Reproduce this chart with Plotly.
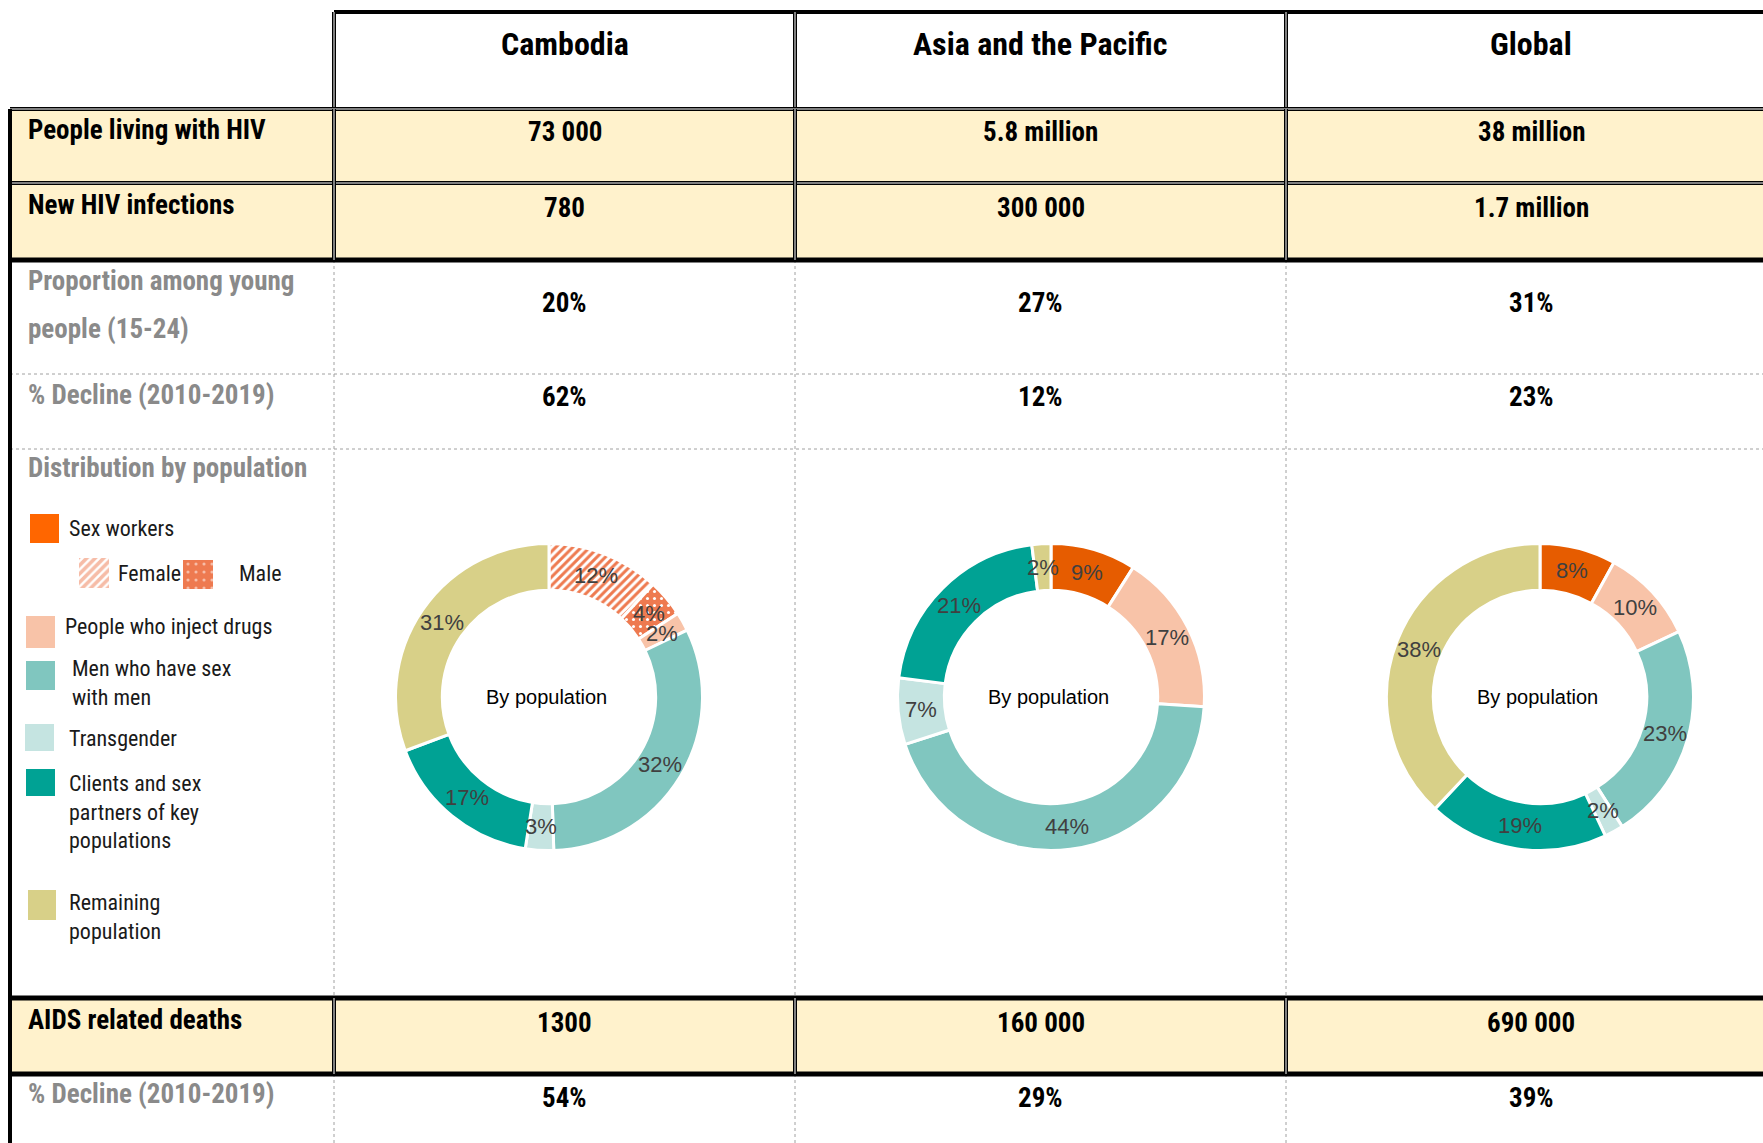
import math
import plotly.graph_objects as go

W, H = 1763, 1143

# ---------------- data ----------------
columns = ["Cambodia", "Asia and the Pacific", "Global"]
plhiv = ["73 000", "5.8 million", "38 million"]
new_infections = ["780", "300 000", "1.7 million"]
young_share = ["20%", "27%", "31%"]
decline_infections = ["62%", "12%", "23%"]
aids_deaths = ["1300", "160 000", "690 000"]
decline_deaths = ["54%", "29%", "39%"]

cambodia_groups = ["Female sex workers", "Male sex workers", "People who inject drugs",
                   "Men who have sex with men", "Transgender",
                   "Clients and sex partners of key populations", "Remaining population"]
cambodia_dist = [12, 4, 2, 32, 3, 17, 31]

region_groups = ["Sex workers", "People who inject drugs", "Men who have sex with men",
                 "Transgender", "Clients and sex partners of key populations",
                 "Remaining population"]
asia_dist = [9, 17, 44, 7, 21, 2]
global_dist = [8, 10, 23, 2, 19, 38]

legend_labels = ["Sex workers", "People who inject drugs", "Men who have sex<br>with men",
                 "Transgender", "Clients and sex<br>partners of key<br>populations",
                 "Remaining<br>population"]

# ---------------- style ----------------
NARROW = "Roboto Condensed, Liberation Sans Narrow, Arial Narrow, sans-serif"
ARIAL = "Liberation Sans, Arial, sans-serif"
YELLOW = "#FFF2CC"
GRAY = "#8a8a8a"
C_SW = "#E65C00"
C_SW_LEG = "#FF6600"
C_SW_PAT = "#EE7A50"
C_PWID = "#F8C3A8"
C_MSM = "#80C6BF"
C_TG = "#C5E4E1"
C_CLI = "#00A294"
C_REM = "#D8D088"
region_colors = [C_SW, C_PWID, C_MSM, C_TG, C_CLI, C_REM]
cam_colors = [C_SW_PAT, C_SW_PAT, C_PWID, C_MSM, C_TG, C_CLI, C_REM]


def X(px):
    return px / W


def Y(py):
    return 1 - py / H


shapes = []
annotations = []


def line(x0, y0, x1, y1, color="black", width=3, dash="solid"):
    shapes.append(dict(type="line", xref="paper", yref="paper",
                       x0=X(x0), y0=Y(y0), x1=X(x1), y1=Y(y1),
                       line=dict(color=color, width=width, dash=dash)))


def dline(x0, y0, x1, y1, width=4):
    line(x0, y0, x1, y1, "black", width)
    line(x0, y0, x1, y1, "white", 1)


def rect(x0, y0, x1, y1, fill):
    shapes.append(dict(type="rect", xref="paper", yref="paper",
                       x0=X(x0), y0=Y(y0), x1=X(x1), y1=Y(y1),
                       fillcolor=fill, line=dict(width=0), layer="below"))


def text(s, x, y, size, color="black", family=NARROW, anchor="center", bold=False):
    if bold:
        s = "<b>" + s + "</b>"
    annotations.append(dict(text=s, x=X(x), y=Y(y), xref="paper", yref="paper",
                            xanchor=anchor, yanchor="middle", showarrow=False,
                            align="left",
                            font=dict(family=family, size=size, color=color)))


# grid positions (pixels)
LEFT = 10
COLX = [334, 795, 1286, 1776]
col_centers = [(COLX[i] + COLX[i + 1]) / 2 for i in range(3)]
RIGHT = 1790

# fills
rect(LEFT, 109, RIGHT, 260, YELLOW)
rect(LEFT, 998, RIGHT, 1074, YELLOW)

# dotted grid
DOT = "#a0a0a0"
for yy in (374, 449):
    line(LEFT, yy, W, yy, DOT, 1, "dot")
for xx in COLX[:3]:
    line(xx, 260, xx, 998, DOT, 1, "dot")
    line(xx, 1074, xx, H, DOT, 1, "dot")

# header box
line(COLX[0], 12, RIGHT, 12, "black", 4)
dline(COLX[0], 12, COLX[0], 109)
dline(COLX[1], 12, COLX[1], 109)
dline(COLX[2], 12, COLX[2], 109)

# yellow rows
dline(LEFT, 109, RIGHT, 109)
dline(LEFT, 183, RIGHT, 183)
line(LEFT, 260, RIGHT, 260, "black", 5)
for xx in COLX[:3]:
    dline(xx, 109, xx, 260)
line(LEFT, 109, LEFT, H, "black", 4)

# AIDS row
line(LEFT, 998, RIGHT, 998, "black", 5)
line(LEFT, 1074, RIGHT, 1074, "black", 5)
for xx in COLX[:3]:
    dline(xx, 998, xx, 1074)

# header texts
for c, name in zip(col_centers, columns):
    text(name, c, 44, 32, bold=True)

# row labels
LS = 27
text("People living with HIV", 26, 130, LS, bold=True, anchor="left")
text("New HIV infections", 26, 205, LS, bold=True, anchor="left")
text("Proportion among young", 26, 281, LS, GRAY, bold=True, anchor="left")
text("people (15-24)", 26, 329, LS, GRAY, bold=True, anchor="left")
text("% Decline (2010-2019)", 26, 395, LS, GRAY, bold=True, anchor="left")
text("Distribution by population", 26, 468, LS, GRAY, bold=True, anchor="left")
text("AIDS related deaths", 26, 1020, LS, bold=True, anchor="left")
text("% Decline (2010-2019)", 26, 1094, LS, GRAY, bold=True, anchor="left")

rows = [(plhiv, 132), (new_infections, 208), (young_share, 303),
        (decline_infections, 397), (aids_deaths, 1023), (decline_deaths, 1098)]
for vals, yy in rows:
    for c, v in zip(col_centers, vals):
        text(v, c, yy, LS, bold=True)

# legend
LEG = "#1a1a1a"
LEGS = 22
leg_boxes = [(30, 514, 59, 543), (26, 616, 55, 648), (26, 661, 55, 690),
             (25, 724, 54, 751), (26, 769, 55, 796), (28, 890, 56, 920)]
leg_text = [(67, 528), (63, 626), (70, 683), (67, 738), (67, 812), (67, 917)]
leg_cols = [C_SW_LEG, C_PWID, C_MSM, C_TG, C_CLI, C_REM]
for (x0, y0, x1, y1), col in zip(leg_boxes, leg_cols):
    shapes.append(dict(type="rect", xref="paper", yref="paper",
                       x0=X(x0), y0=Y(y0), x1=X(x1), y1=Y(y1),
                       fillcolor=col, line=dict(width=0)))
for (tx, ty), lab in zip(leg_text, legend_labels):
    annotations.append(dict(text=lab, x=X(tx), y=Y(ty), xref="paper", yref="paper",
                            xanchor="left", yanchor="middle", showarrow=False,
                            align="left",
                            font=dict(family=NARROW, size=LEGS, color=LEG)))
text("Female", 116, 573, LEGS, LEG, anchor="left")
text("Male", 237, 573, LEGS, LEG, anchor="left")

fig = go.Figure()

# patterned legend swatches (bar marks on a pixel axis)
fig.add_trace(go.Bar(
    x=[94], y=[30], base=[558], width=[30],
    marker=dict(color="white", line=dict(width=0),
                pattern=dict(shape="/", fillmode="overlay", fgcolor=C_SW_PAT,
                             bgcolor="white", size=6, solidity=0.6)),
    hoverinfo="skip", showlegend=False, xaxis="x", yaxis="y"))
fig.add_trace(go.Bar(
    x=[198], y=[29], base=[560], width=[30],
    marker=dict(color=C_SW_PAT, line=dict(width=0),
                pattern=dict(shape=".", fillmode="overlay", fgcolor="white",
                             bgcolor=C_SW_PAT, size=8, solidity=0.12)),
    hoverinfo="skip", showlegend=False, xaxis="x", yaxis="y"))

# donuts
R = 153.5
HOLE = 0.695
centers = [(549, 697), (1051, 697), (1540, 697)]
donuts = [
    (cambodia_groups, cambodia_dist, cam_colors,
     dict(shape=["/", ".", "", "", "", "", ""],
          fgcolor=[C_SW_PAT, "white", C_PWID, C_MSM, C_TG, C_CLI, C_REM],
          bgcolor=["white", C_SW_PAT, C_PWID, C_MSM, C_TG, C_CLI, C_REM],
          size=[6, 7, 6, 6, 6, 6, 6], solidity=[0.5, 0.15, 0.3, 0.3, 0.3, 0.3, 0.3])),
    (region_groups, asia_dist, region_colors, None),
    (region_groups, global_dist, region_colors, None),
]
for (cx, cy), (labs, vals, cols, pat) in zip(centers, donuts):
    marker = dict(colors=cols, line=dict(color="white", width=3))
    if pat:
        marker["pattern"] = pat
    fig.add_trace(go.Pie(
        labels=labs, values=vals, hole=HOLE, sort=False, direction="clockwise",
        rotation=0, textinfo="none", hoverinfo="skip", showlegend=False,
        marker=marker,
        domain=dict(x=[X(cx - R), X(cx + R)], y=[Y(cy + R), Y(cy - R)])))
    total = sum(vals)
    rm = R * (1 + HOLE) / 2
    cum = 0
    for v in vals:
        th = 2 * math.pi * (cum + v / 2) / total
        cum += v
        text(f"{v}%", cx + rm * math.sin(th), cy - rm * math.cos(th), 22,
             "#404040", ARIAL)
    text("By population", cx - 3, cy, 20, "black", ARIAL)

fig.update_layout(
    width=W, height=H, autosize=False,
    margin=dict(l=0, r=0, t=0, b=0, pad=0),
    paper_bgcolor="white", plot_bgcolor="rgba(0,0,0,0)",
    xaxis=dict(range=[0, W], visible=False, fixedrange=True, domain=[0, 1]),
    yaxis=dict(range=[H, 0], visible=False, fixedrange=True, domain=[0, 1]),
    shapes=shapes, annotations=annotations, bargap=0, barmode="overlay",
)

fig.write_html("out.html", config={"displayModeBar": False},
               post_script="document.body.style.margin='0';document.body.style.overflow='hidden';")
